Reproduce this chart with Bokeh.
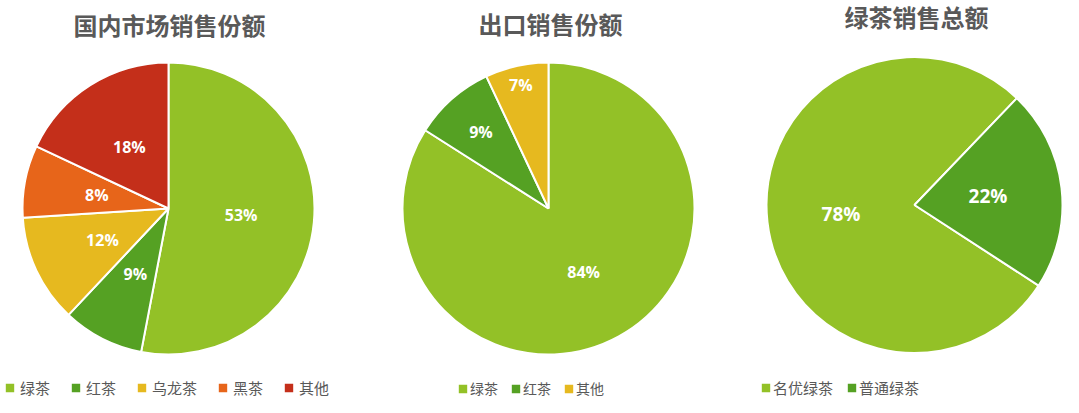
import math
from bokeh.plotting import figure
from bokeh.models import ColumnDataSource, Range1d, Legend, LegendItem
from bokeh.core.properties import value
from bokeh.embed import file_html
from bokeh.resources import INLINE

# ---------------- data ----------------
titles = ["国内市场销售份额", "出口销售份额", "绿茶销售总额"]

domestic_labels = ["绿茶", "红茶", "乌龙茶", "黑茶", "其他"]
domestic_values = [53, 9, 12, 8, 18]

export_labels = ["绿茶", "红茶", "其他"]
export_values = [84, 9, 7]

green_labels = ["名优绿茶", "普通绿茶"]
green_values = [78, 22]

# ---------------- style ----------------
C_LGREEN = "#93C127"
C_DGREEN = "#55A123"
C_YELLOW = "#E6B91F"
C_ORANGE = "#E7651A"
C_RED = "#C42F1A"
TEXT_GRAY = "#595959"
CJK = "Noto Sans CJK SC"

W, H = 1063, 397

def sy(y):
    # picture pixel y (from top) -> data y (y axis points up)
    return H - y

p = figure(width=W, height=H, output_backend="svg", toolbar_location=None,
           x_range=Range1d(0, W), y_range=Range1d(0, H),
           min_border=0, outline_line_color=None)
p.axis.visible = False
p.grid.visible = False
p.background_fill_color = "white"
p.border_fill_color = "white"

pies = [
    dict(labels=domestic_labels, values=domestic_values,
         colors=[C_LGREEN, C_DGREEN, C_YELLOW, C_ORANGE, C_RED],
         cx=168, cy=208, r=146, rot=0, lab_r=[0.5] * 5, lab_size="16px",
         title=titles[0], tx=169, ty=24,
         leg_x=3, leg_font="15px", leg_standoff=4, leg_spacing=19),
    dict(labels=export_labels, values=export_values,
         colors=[C_LGREEN, C_DGREEN, C_YELLOW],
         cx=548, cy=208, r=146, rot=0, lab_r=[0.5, 0.7, 0.87], lab_size="16px",
         title=titles[1], tx=550, ty=23,
         leg_x=456, leg_font="14px", leg_standoff=1, leg_spacing=11),
    dict(labels=green_labels, values=green_values,
         colors=[C_LGREEN, C_DGREEN],
         cx=914, cy=204.5, r=148, rot=123, lab_r=[0.5, 0.5], lab_size="19px",
         title=titles[2], tx=916, ty=16,
         leg_x=759, leg_font="15px", leg_standoff=1, leg_spacing=12),
]

for pie in pies:
    vals = pie["values"]
    total = float(sum(vals))
    starts, ends, lx, ly, txt = [], [], [], [], []
    cum = 0.0
    rot = math.radians(pie["rot"])
    for i, v in enumerate(vals):
        a0 = math.pi / 2 - rot - cum / total * 2 * math.pi
        a1 = math.pi / 2 - rot - (cum + v) / total * 2 * math.pi
        starts.append(a0)
        ends.append(a1)
        mid = (a0 + a1) / 2
        rr = pie["r"] * pie["lab_r"][i]
        lx.append(pie["cx"] + rr * math.cos(mid))
        ly.append(sy(pie["cy"]) + rr * math.sin(mid))
        txt.append(f"{round(v / total * 100)}%")
        cum += v
    src = ColumnDataSource(dict(start=starts, end=ends, color=pie["colors"],
                                name=pie["labels"], lx=lx, ly=ly, txt=txt))
    wr = p.wedge(x=pie["cx"], y=sy(pie["cy"]), radius=pie["r"],
                 start_angle="start", end_angle="end", direction="clock",
                 fill_color="color", line_color="white", line_width=2, source=src)
    p.text(x="lx", y="ly", text="txt", source=src, text_color="white",
           text_font=value("Open Sans"), text_font_style="bold",
           text_font_size=pie["lab_size"], text_align="center", text_baseline="middle")
    tsrc = ColumnDataSource(dict(x=[pie["tx"]], y=[sy(pie["ty"])], t=[pie["title"]]))
    p.text(x="x", y="y", text="t", source=tsrc, text_color=TEXT_GRAY,
           text_font=value(CJK), text_font_style="bold", text_font_size="24px",
           text_align="center", text_baseline="middle")
    items = [LegendItem(label=n, renderers=[wr], index=i) for i, n in enumerate(pie["labels"])]
    leg = Legend(items=items, orientation="horizontal",
                 location=(pie["leg_x"], -1),
                 glyph_width=13, glyph_height=13,
                 label_standoff=pie["leg_standoff"], spacing=pie["leg_spacing"],
                 padding=0, margin=0, border_line_color=None,
                 background_fill_alpha=0,
                 label_text_font=CJK, label_text_font_size=pie["leg_font"],
                 label_text_color=TEXT_GRAY, label_height=20)
    p.add_layout(leg, "center")

open("out.html", "w").write(file_html(p, INLINE))
